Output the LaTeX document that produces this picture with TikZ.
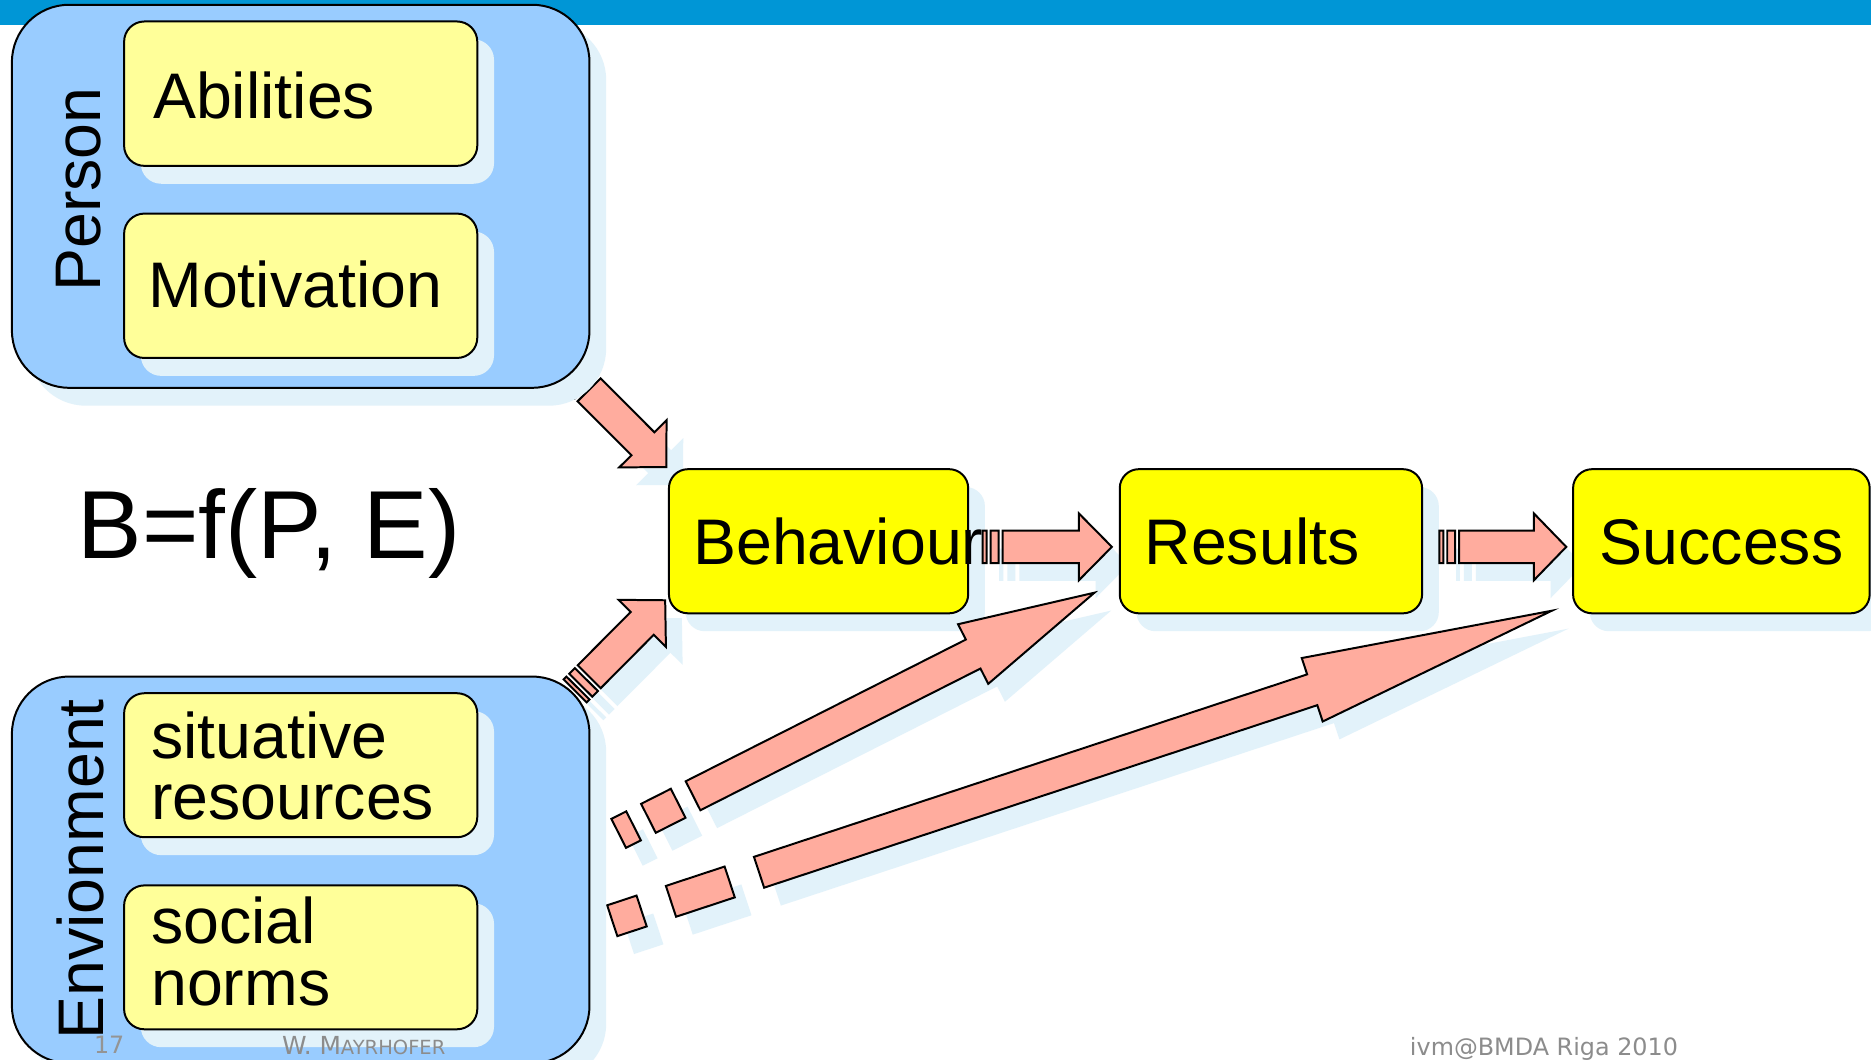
\documentclass[tikz,border=0pt]{standalone}
\usepackage{fontspec}
\setmainfont{Liberation Sans}
\newfontfamily\footfont{DejaVu Sans}
\usetikzlibrary{calc,shadows}
\definecolor{barblue}{RGB}{0,150,214}
\definecolor{groupblue}{RGB}{153,204,255}
\definecolor{paleyellow}{RGB}{255,255,153}
\definecolor{brightyellow}{RGB}{255,255,0}
\definecolor{shadowblue}{RGB}{226,242,250}
\definecolor{arrowpink}{RGB}{255,172,158}
\definecolor{footgray}{RGB}{140,140,140}
\definecolor{numgray}{RGB}{148,148,148}
% striped block arrow from tail coordinate #1 to tip coordinate #2, offset #3, path options #4
\newcommand\blockarrowdraw[4]{%
  \pgfmathanglebetweenpoints{\pgfpointanchor{#1}{center}}{\pgfpointanchor{#2}{center}}%
  \edef\bArAng{\pgfmathresult}%
  \pgfpointdiff{\pgfpointanchor{#1}{center}}{\pgfpointanchor{#2}{center}}%
  \pgfgetlastxy{\bArDx}{\bArDy}%
  \pgfmathsetmacro\bArL{veclen(\bArDx,\bArDy)/0.6}%
  \pgfmathsetmacro\bArU{\bArL/32}%
  \pgfmathsetmacro\bArB{\bArL*0.745}%
  \begin{scope}[shift={($(#1)+#3$)}, rotate=\bArAng]
    \path[#4] (0,-13.6) rectangle (\bArU,13.6)
      (2*\bArU,-13.6) rectangle (4*\bArU,13.6)
      (5*\bArU,-13.6) -- (\bArB,-13.6) -- (\bArB,-28) -- (\bArL,0) -- (\bArB,28) -- (\bArB,13.6) -- (5*\bArU,13.6) -- cycle;
  \end{scope}%
}
\tikzset{
  boxshadow/.style={drop shadow={shadow xshift=8.4pt, shadow yshift=-9pt, fill=shadowblue, opacity=1}},
  groupbox/.style={draw=black, line width=1pt, fill=groupblue, rounded corners=28.8pt, inner sep=0pt, boxshadow},
  itembox/.style={draw=black, line width=1pt, fill=paleyellow, rounded corners=10.2pt, inner sep=0pt, boxshadow},
  mainbox/.style={draw=black, line width=1pt, fill=brightyellow, rounded corners=9.6pt, inner sep=0pt, boxshadow},
  arrowfill/.style={fill=arrowpink, draw=black, line width=1pt, line join=miter},
  arrowshadow/.style={fill=shadowblue},
  lbl/.style={inner sep=0pt, font=\fontsize{32.4}{31}\selectfont},
  foot/.style={inner sep=0pt, text=footgray, font=\footfont\fontsize{12}{14}\selectfont},
}
\begin{document}
\begin{tikzpicture}[x=0.6pt,y=-0.6pt]
\useasboundingbox (0,0) rectangle (1568,888);
\clip (0,0) rectangle (1568,888);
\fill[white] (0,0) rectangle (1568,888);
% top bar
\fill[barblue] (0,0) rectangle (1568,21);

% arrow end points
\coordinate (a1tail) at (481.7,314.7); \coordinate (a1tip) at (558.5,391.6);
\coordinate (a2tail) at (482,579);     \coordinate (a2tip) at (557.5,503);
\coordinate (a3tail) at (518.5,698.4); \coordinate (a3tip) at (917.2,496.7);
\coordinate (a4tail) at (513.1,771.6); \coordinate (a4tip) at (1300.5,511.8);
\coordinate (a5tail) at (823.4,458.3); \coordinate (a5tip) at (931.8,458.3);
\coordinate (a6tail) at (1206.2,458.3);\coordinate (a6tip) at (1312.6,458.3);

% arrow shadows
\blockarrowdraw{a1tail}{a1tip}{(14,15)}{arrowshadow}
\blockarrowdraw{a2tail}{a2tip}{(14,15)}{arrowshadow}
\blockarrowdraw{a3tail}{a3tip}{(14,15)}{arrowshadow}
\blockarrowdraw{a4tail}{a4tip}{(14,15)}{arrowshadow}
\blockarrowdraw{a5tail}{a5tip}{(14,15)}{arrowshadow}
\blockarrowdraw{a6tail}{a6tip}{(14,15)}{arrowshadow}

% main chain boxes
\node[mainbox, minimum width=250.8*0.6pt, minimum height=120.8*0.6pt] (behav) at (686,453.6) {};
\node[mainbox, minimum width=253.4*0.6pt, minimum height=120.8*0.6pt] (results) at (1065.1,453.6) {};
\node[mainbox, minimum width=248.6*0.6pt, minimum height=120.8*0.6pt] (success) at (1442.6,453.6) {};

% arrows
\blockarrowdraw{a1tail}{a1tip}{(0,0)}{arrowfill}
\blockarrowdraw{a2tail}{a2tip}{(0,0)}{arrowfill}
\blockarrowdraw{a3tail}{a3tip}{(0,0)}{arrowfill}
\blockarrowdraw{a4tail}{a4tip}{(0,0)}{arrowfill}
\blockarrowdraw{a5tail}{a5tip}{(0,0)}{arrowfill}
\blockarrowdraw{a6tail}{a6tip}{(0,0)}{arrowfill}

% group boxes
\node[groupbox, minimum width=484*0.6pt, minimum height=321*0.6pt] (person) at (252,164.5) {};
\node[groupbox, minimum width=484*0.6pt, minimum height=324*0.6pt] (env) at (252,729) {};
% item boxes
\node[itembox, minimum width=296*0.6pt, minimum height=121*0.6pt] (abil) at (252,78.5) {};
\node[itembox, minimum width=296*0.6pt, minimum height=121*0.6pt] (motiv) at (252,239.5) {};
\node[itembox, minimum width=296*0.6pt, minimum height=120.7*0.6pt] (sitres) at (252,641.3) {};
\node[itembox, minimum width=296*0.6pt, minimum height=120.6*0.6pt] (social) at (252,802.3) {};

% labels
\node[lbl, rotate=90, anchor=base] (personlbl) at (84.5,159) {Person};
\node[lbl, rotate=90, anchor=base] (envlbl) at (86.5,728.5) {Envionment};
\node[lbl, anchor=base west] (abiltxt) at (128,99) {Abilities};
\node[lbl, anchor=base west] (motivtxt) at (124.1,258) {Motivation};
\node[lbl, anchor=base west] (sitrestxt) at (126.4,635.5) {\vtop{\hbox{situative}\hbox{resources}}};
\node[lbl, anchor=base west] (socialtxt) at (126.4,790.6) {\vtop{\hbox{social}\hbox{norms}}};
\node[lbl, anchor=base west] (behavtxt) at (580.7,473.5) {Behaviour};
\node[lbl, anchor=base west] (resultstxt) at (958.9,473.5) {Results};
\node[lbl, anchor=base west] (successtxt) at (1340.4,473.5) {Success};
\node[inner sep=0pt, anchor=base west, font=\fontsize{48.6}{52}\selectfont] (formula) at (65,468) {B=f(P, E)};

% footer
\node[foot, anchor=base west, text=numgray, font=\footfont\fontsize{12}{14}\selectfont] (pagenum) at (78.5,883) {17};
\node[foot, anchor=base west, font=\footfont\fontsize{12.5}{14}\selectfont] (author) at (236,884) {W. M{\fontsize{9.8}{11}\selectfont AYRHOFER}};
\node[foot, anchor=base west] (venue) at (1181.3,884.2) {ivm@BMDA Riga 2010};
\end{tikzpicture}
\end{document}
